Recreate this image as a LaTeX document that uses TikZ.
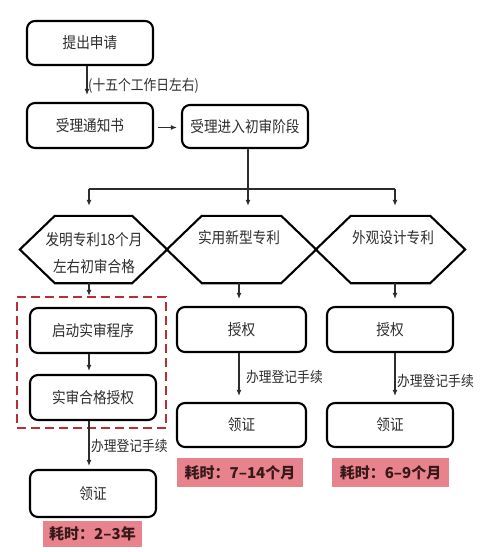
\documentclass[tikz,border=0pt]{standalone}
\usepackage{fontspec}
\setmainfont{Noto Sans CJK SC}[FakeStretch=0.88]
\newfontfamily\redfont{Noto Sans CJK SC}
\usetikzlibrary{arrows.meta,calc}
\definecolor{boxtxt}{RGB}{45,45,45}
\definecolor{linec}{RGB}{45,45,45}
\definecolor{dashred}{RGB}{185,45,55}
\definecolor{pinkfill}{RGB}{232,130,140}
\definecolor{pinktxt}{RGB}{55,25,25}
\tikzset{
  rbox/.style={draw=black, line width=2.1pt, rounded corners=8pt, minimum height=44pt,
    minimum width=126pt, inner sep=0pt, text=boxtxt, font=\fontsize{15.5}{17}\selectfont},
  hexspace/.style={minimum height=67pt, inner sep=0pt},
  hexline/.style={draw=black, line width=2.1pt, line join=miter},
  htxt/.style={text=boxtxt, font=\fontsize{15.5}{17}\selectfont, inner sep=0pt},
  lbl/.style={text=boxtxt, font=\fontsize{14.5}{16}\selectfont, inner sep=0pt, anchor=west},
  conn/.style={draw=linec, line width=1.3pt},
  arr/.style={conn, -{Latex[length=6pt,width=5pt]}},
  redlbl/.style={fill=pinkfill, text=pinktxt, font=\redfont\fontsize{15}{17}\selectfont\bfseries, inner sep=0pt},
  dbx/.style={draw=dashred, line width=2.2pt, dash pattern=on 9pt off 5pt, inner sep=0pt}
}
\begin{document}
\begin{tikzpicture}[x=1pt,y=-1pt]
\useasboundingbox[fill=white] (0,0) rectangle (500,552);
% top boxes
\node[rbox] (n1) at (90,43) {提出申请};
\node[rbox, minimum height=45pt] (n2) at (90,125.5) {受理通知书};
\node[rbox, minimum height=43pt] (n3) at (245,126.5) {受理进入初审阶段};
\node[lbl] (l0) at (88,86) {(十五个工作日左右)};
% hexagons (space)
\node[hexspace, minimum width=147pt] (h1) at (93.5,249.5) {};
\node[hexspace, minimum width=149pt] (h2) at (241.5,249.5) {};
\node[hexspace, minimum width=149pt] (h3) at (390.5,249.5) {};
\foreach \h in {h1,h2,h3}{
  \draw[hexline] (\h.west) -- ($(\h.north west)+(35,0)$) -- ($(\h.north east)+(-35,0)$)
    -- (\h.east) -- ($(\h.south east)+(-35,0)$) -- ($(\h.south west)+(35,0)$) -- cycle;
}
\node[htxt] (h1a) at (94,240) {发明专利18个月};
\node[htxt] (h1b) at (94,267) {左右初审合格};
\node[htxt] (h2a) at (239,238) {实用新型专利};
\node[htxt] (h3a) at (393,238) {外观设计专利};
% dashed box
\node[dbx, minimum width=149pt, minimum height=131pt] (db) at (91.5,362.5) {};
% column 1
\node[rbox, minimum height=45pt] (a1) at (93,330.5) {启动实审程序};
\node[rbox, minimum height=45pt] (a2) at (93,397.5) {实审合格授权};
\node[rbox, minimum height=47pt] (a3) at (93,493.5) {领证};
\node[redlbl, minimum width=99pt, minimum height=26pt] (r1) at (92.5,534) {耗时：2–3年};
% column 2
\node[rbox, minimum width=129pt, minimum height=45pt] (b1) at (241.5,329.5) {授权};
\node[rbox, minimum width=129pt] (b2) at (241.5,425) {领证};
\node[redlbl, minimum width=126pt, minimum height=29pt] (r2) at (240,472.5) {耗时：7–14个月};
% column 3
\node[rbox, minimum height=45pt] (c1) at (390,329.5) {授权};
\node[rbox] (c2) at (390,425) {领证};
\node[redlbl, minimum width=117pt, minimum height=29pt] (r3) at (390.5,472.5) {耗时：6–9个月};
% labels
\node[lbl] (l1) at (91,446) {办理登记手续};
\node[lbl] (l2) at (246,377) {办理登记手续};
\node[lbl] (l3) at (397,381) {办理登记手续};
% connectors
\coordinate (x87) at (87,0);
\coordinate (x89) at (89,0);
\coordinate (x239) at (239,0);
\coordinate (x395) at (395,0);
\coordinate (j) at (248,189);
\coordinate (jl) at (89,189);
\coordinate (jr) at (395,189);
\draw[arr, shorten >=7pt] (n1.south -| x87) -- (n2.north -| x87);
\draw[arr, shorten <=4pt, shorten >=4pt] ([yshift=-2pt]n2.east) -- ([yshift=-2pt]n2.east -| n3.west);
\draw[conn] (n3.south -| j) -- (j);
\draw[conn] (jl) -- (jr);
\draw[arr, shorten >=10pt] (jl) -- (jl |- h1.north);
\draw[arr, shorten >=10pt] (j) -- (j |- h2.north);
\draw[arr, shorten >=10pt] (jr) -- (jr |- h3.north);
\draw[arr] (h1.south -| x89) -- (db.north -| x89);
\draw[arr, shorten >=3pt] (a1.south -| x89) -- (a2.north -| x89);
\draw[arr, shorten >=3pt] (a2.south -| x89) -- (a3.north -| x89);
\draw[arr, shorten >=7pt] (h2.south -| x239) -- (b1.north -| x239);
\draw[arr, shorten >=6pt] (b1.south -| x239) -- (b2.north -| x239);
\draw[arr, shorten >=7pt] (h3.south -| x395) -- (c1.north -| x395);
\draw[arr, shorten >=6pt] (c1.south -| x395) -- (c2.north -| x395);
\end{tikzpicture}
\end{document}
